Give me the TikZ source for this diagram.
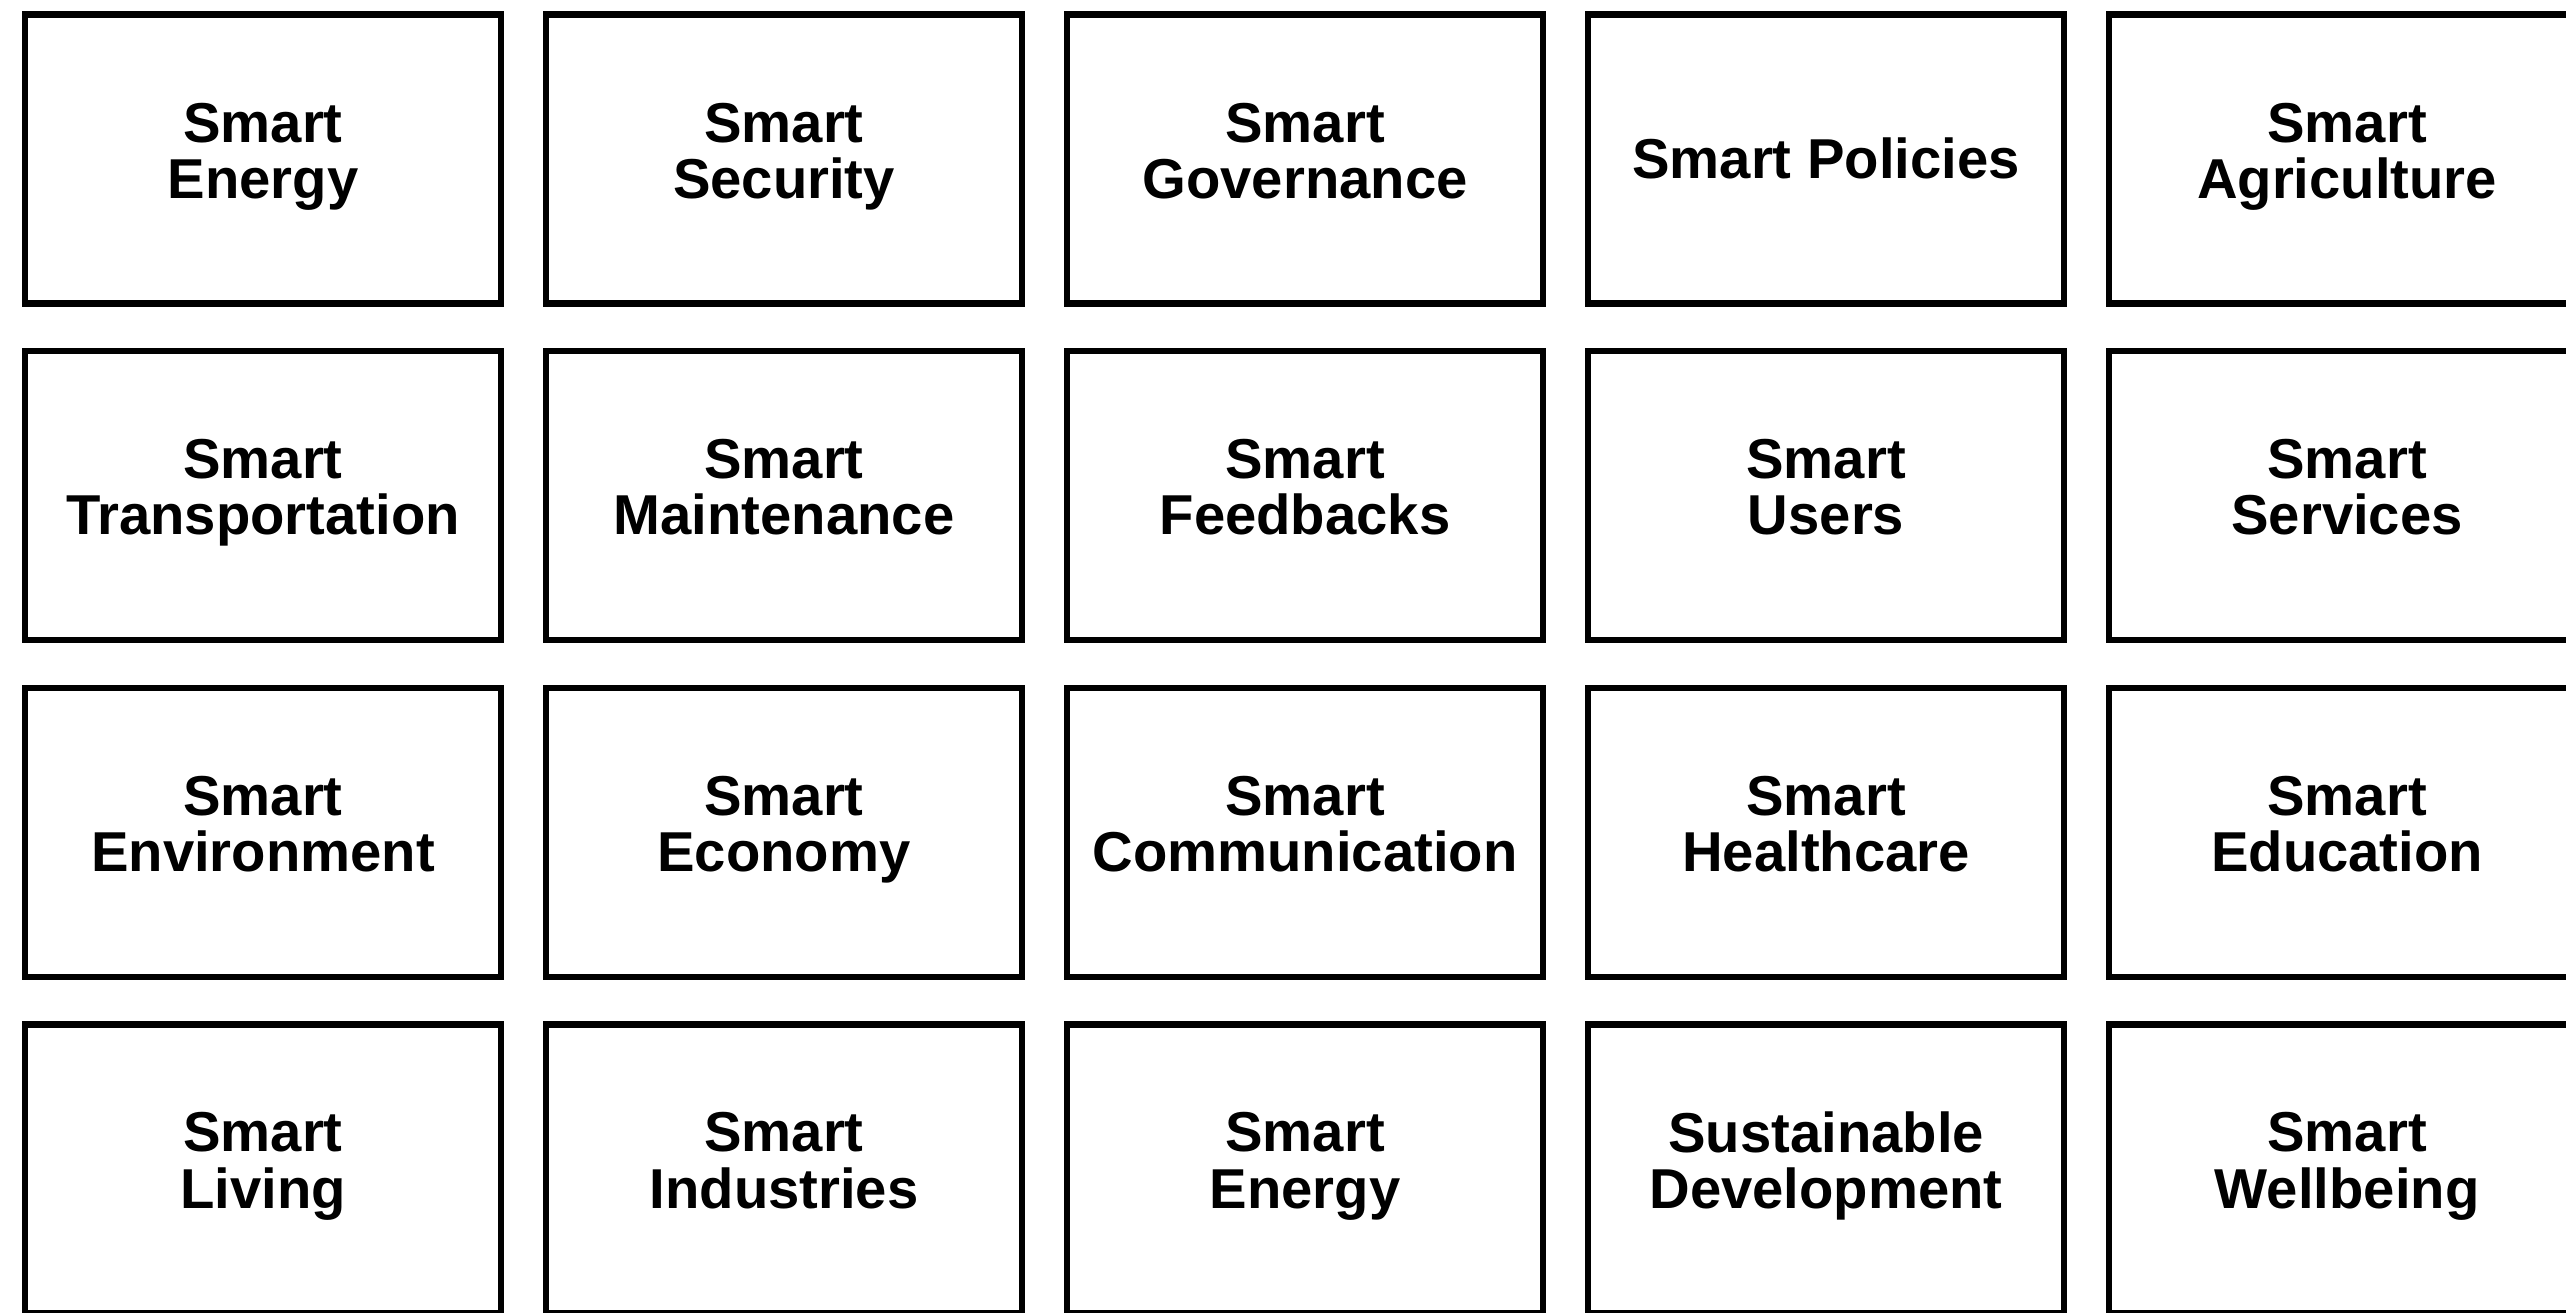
\documentclass[tikz,border=0pt]{standalone}
\usepackage{fontspec}
\setmainfont{Liberation Sans}
\usepackage{tikz}
\usetikzlibrary{positioning}
\tikzstyle{tile} = [rectangle, minimum width=4.76cm, minimum height=2.89cm, align=center, draw=black, line width=1.8pt, font=\bfseries\fontsize{16}{16}\selectfont, execute at begin node={\rule{0pt}{16pt}}, execute at end node=\strut]

\begin{document}
\begin{tikzpicture}[node distance=0.413cm and 0.387cm]
            \useasboundingbox (0,0) rectangle (25.66,-13.12);
            % baris 1
            \node (energy) [tile] at (2.63,-1.59) {Smart\\Energy};
            \node (security) [tile, right=of energy] {Smart\\Security};
            \node (governance) [tile, right=of security] {Smart\\Governance};
            \node (policies) [tile, right=of governance] {Smart Policies};
            \node (agriculture) [tile, right=of policies] {Smart\\Agriculture};
            % baris 2
            \node (transportation) [tile, below=of energy] {Smart\\Transportation};
            \node (maintenance) [tile, right=of transportation] {Smart\\Maintenance};
            \node (feedbacks) [tile, right=of maintenance] {Smart\\Feedbacks};
            \node (users) [tile, right=of feedbacks] {Smart\\Users};
            \node (services) [tile, right=of users] {Smart\\Services};
            % baris 3
            \node (environment) [tile, below=of transportation] {Smart\\Environment};
            \node (economy) [tile, right=of environment] {Smart\\Economy};
            \node (communication) [tile, right=of economy] {Smart\\Communication};
            \node (healthcare) [tile, right=of communication] {Smart\\Healthcare};
            \node (education) [tile, right=of healthcare] {Smart\\Education};
            % baris 4
            \node (living) [tile, below=of environment] {Smart\\Living};
            \node (industries) [tile, right=of living] {Smart\\Industries};
            \node (energy-2) [tile, right=of industries] {Smart\\Energy};
            \node (development) [tile, right=of energy-2] {Sustainable\\Development};
            \node (wellbeing) [tile, right=of development] {Smart\\Wellbeing};
        \end{tikzpicture}
\end{document}
